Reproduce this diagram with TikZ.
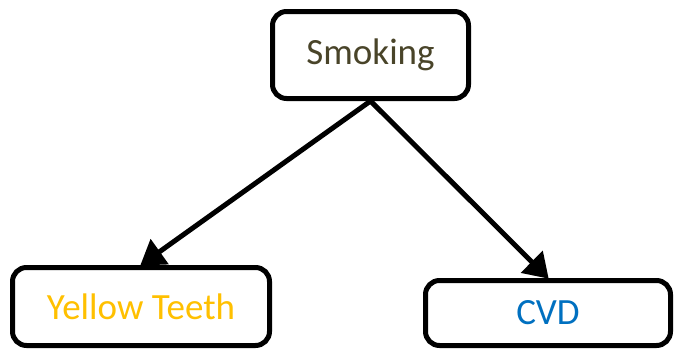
\documentclass[tikz,border=0pt]{standalone}
\usepackage{fontspec}
\setmainfont{Carlito}
\usetikzlibrary{arrows.meta}

\definecolor{smokecol}{RGB}{73,68,41}
\definecolor{teethcol}{RGB}{255,192,0}
\definecolor{cvdcol}{RGB}{0,112,192}

\begin{document}
\begin{tikzpicture}[x=1pt,y=-1pt,
        box/.style={draw,line width=5pt,rounded corners=14pt,fill=white,
            font=\fontsize{37}{40}\selectfont},
        link/.style={line width=5pt,-{Triangle[length=24pt,width=30pt]},shorten >=-1pt}
    ]
    \useasboundingbox (0,0) rectangle (674,351);
    \node[box,minimum width=196pt,minimum height=87pt,text=smokecol] (smoking) at (370.5,55) {Smoking};
    \node[box,minimum width=257pt,minimum height=78pt,text=teethcol] (teeth) at (141,306.5) {Yellow Teeth};
    \node[box,minimum width=245pt,minimum height=65pt,text=cvdcol] (cvd) at (548,313) {CVD};
    \draw[link] (smoking.south) -- (teeth.north);
    \draw[link] (smoking.south) -- (cvd.north);
\end{tikzpicture}
\end{document}
